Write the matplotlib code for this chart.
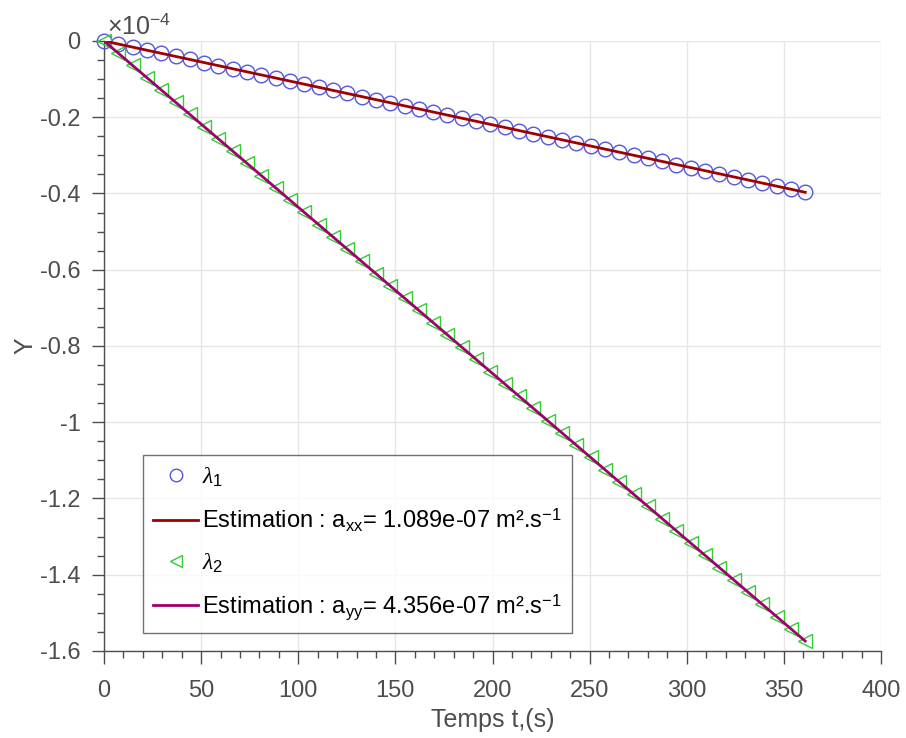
import numpy as np
import matplotlib
matplotlib.use('Agg')
import matplotlib.pyplot as plt
from matplotlib.lines import Line2D
from matplotlib.ticker import MultipleLocator

plt.rcParams['font.family'] = ['Liberation Sans', 'DejaVu Sans']
plt.rcParams['mathtext.fontset'] = 'custom'
plt.rcParams['mathtext.rm'] = 'Liberation Sans'
plt.rcParams['mathtext.it'] = 'Liberation Serif:italic'

# time samples (s)
t = [0, 7.37, 14.73, 22.10, 29.47, 36.84, 44.20, 51.57, 58.94, 66.31,
     73.67, 81.04, 88.41, 95.78, 103.14, 110.51, 117.88, 125.24, 132.61, 139.98,
     147.35, 154.71, 162.08, 169.45, 176.82, 184.18, 191.55, 198.92, 206.29, 213.65,
     221.02, 228.39, 235.76, 243.12, 250.49, 257.86, 265.22, 272.59, 279.96, 287.33,
     294.69, 302.06, 309.43, 316.80, 324.16, 331.53, 338.90, 346.27, 353.63, 361.00]

# measured Y (x 1e-4)
lambda1 = [0, -0.0081, -0.0162, -0.0243, -0.0324, -0.0405, -0.0486, -0.0567, -0.0648, -0.0729,
           -0.0810, -0.0891, -0.0973, -0.1054, -0.1135, -0.1216, -0.1297, -0.1378, -0.1459, -0.1540,
           -0.1621, -0.1702, -0.1783, -0.1864, -0.1945, -0.2026, -0.2107, -0.2188, -0.2269, -0.2350,
           -0.2431, -0.2512, -0.2593, -0.2674, -0.2755, -0.2836, -0.2917, -0.2998, -0.3080, -0.3161,
           -0.3242, -0.3323, -0.3404, -0.3485, -0.3566, -0.3647, -0.3728, -0.3809, -0.3890, -0.3971]
lambda2 = [0, -0.0321, -0.0642, -0.0964, -0.1285, -0.1606, -0.1927, -0.2248, -0.2570, -0.2891,
           -0.3212, -0.3533, -0.3855, -0.4176, -0.4497, -0.4818, -0.5140, -0.5460, -0.5782, -0.6103,
           -0.6424, -0.6745, -0.7067, -0.7388, -0.7709, -0.8030, -0.8352, -0.8673, -0.8994, -0.9315,
           -0.9636, -0.9958, -1.0279, -1.0600, -1.0921, -1.1243, -1.1564, -1.1885, -1.2206, -1.2528,
           -1.2849, -1.3170, -1.3491, -1.3812, -1.4133, -1.4455, -1.4776, -1.5097, -1.5418, -1.5740]

# fitted lines
est_t = [0, 361]
est1 = [0, -0.397]
est2 = [0, -1.574]

labels = [r'$\lambda_1$',
          r'Estimation : a$_{\rm xx}$= 1.089e-07 m².s$^{\rm {-}1}$',
          r'$\lambda_2$',
          r'Estimation : a$_{\rm yy}$= 4.356e-07 m².s$^{\rm {-}1}$']

c_blue = '#5656dc'
c_red = '#a00000'
c_green = '#33cc33'
c_mag = '#a0006e'
axcol = '#4d4d4d'

fig = plt.figure(figsize=(9.06, 7.38), dpi=100)
ax = fig.add_axes([0.1148, 0.1179, 0.8576, 0.8266])

ax.plot(t, lambda1, 'o', ms=10.5, mfc='none', mec=c_blue, mew=1.0, clip_on=False, zorder=3)
ax.plot(est_t, est1, '-', color=c_red, lw=2.0, zorder=4)
ax.plot(t, lambda2, '<', ms=10.5, mfc='none', mec=c_green, mew=1.0, clip_on=False, zorder=3)
ax.plot(est_t, est2, '-', color=c_mag, lw=2.0, zorder=4)

ax.set_xlim(0, 400)
ax.set_ylim(-1.6, 0)
ax.xaxis.set_major_locator(MultipleLocator(50))
ax.xaxis.set_minor_locator(MultipleLocator(10))
ax.yaxis.set_major_locator(MultipleLocator(0.2))
ax.yaxis.set_minor_locator(MultipleLocator(0.05))
ax.yaxis.set_major_formatter(plt.FuncFormatter(lambda v, p: '%g' % round(v, 2)))
ax.grid(True, which='major', color='#e6e6e6', lw=1.0)
ax.set_axisbelow(True)

for s in ['top', 'right']:
    ax.spines[s].set_visible(False)
for s in ['left', 'bottom']:
    ax.spines[s].set_color(axcol)
    ax.spines[s].set_linewidth(1.0)
ax.tick_params(which='both', direction='out', colors=axcol, labelsize=17, width=1.0)
ax.tick_params(which='major', length=9)
ax.tick_params(axis='y', which='major', pad=8)
ax.tick_params(axis='x', which='major', pad=12)
ax.tick_params(which='minor', length=5)

ax.set_xlabel('Temps t,(s)', fontsize=18, color=axcol, labelpad=4)
ax.set_ylabel('Y', fontsize=18, color=axcol, labelpad=2)

ax.text(0.004, 1.003, r'$\times$10$^{\rm {-}4}$', transform=ax.transAxes, fontsize=18,
        color=axcol, ha='left', va='bottom')

handles = [
    Line2D([], [], ls='none', marker='o', ms=9, mfc='none', mec=c_blue),
    Line2D([], [], color=c_red, lw=2.0),
    Line2D([], [], ls='none', marker='<', ms=9, mfc='none', mec=c_green),
    Line2D([], [], color=c_mag, lw=2.0),
]
leg = ax.legend(handles, labels, loc='lower left', bbox_to_anchor=(0.05, 0.03),
                fontsize=17, frameon=True, fancybox=False, edgecolor=axcol,
                handlelength=1.9, handletextpad=0.15, labelspacing=0.75,
                borderpad=0.45, borderaxespad=0)
leg.get_frame().set_linewidth(1.0)

fig.savefig('out.png', dpi=100)
